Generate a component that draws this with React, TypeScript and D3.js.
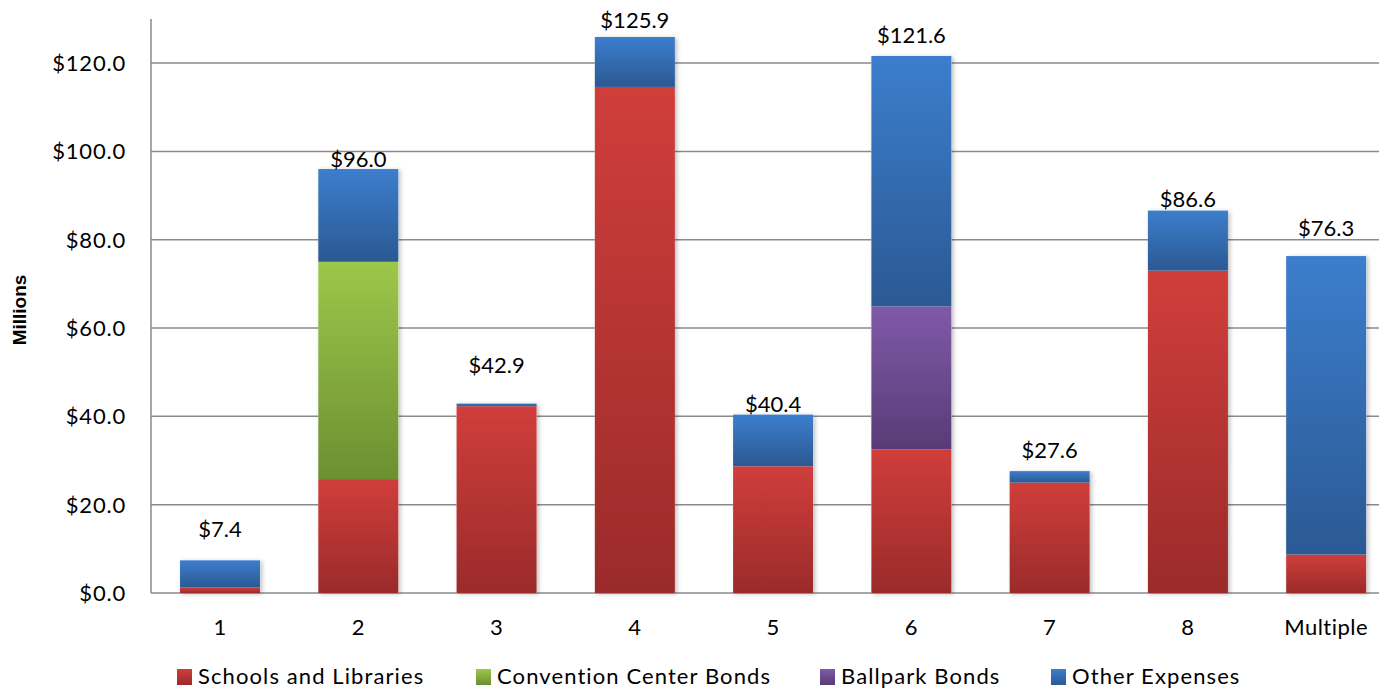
import React from "react";
import * as d3 from "d3";

const categories = ["1", "2", "3", "4", "5", "6", "7", "8", "Multiple"];
const seriesNames = ["Schools and Libraries", "Convention Center Bonds", "Ballpark Bonds", "Other Expenses"];
const schools = [1.3, 25.8, 42.3, 114.6, 28.7, 32.5, 25.0, 73.0, 8.7];
const convention = [0, 49.2, 0, 0, 0, 0, 0, 0, 0];
const ballpark = [0, 0, 0, 0, 0, 32.4, 0, 0, 0];
const other = [6.1, 21.0, 0.6, 11.3, 11.7, 56.7, 2.6, 13.6, 67.6];
const totals = ["$7.4", "$96.0", "$42.9", "$125.9", "$40.4", "$121.6", "$27.6", "$86.6", "$76.3"];
const labelGap = [23, 2, 31, 9, 3, 13, 13, 4, 20];
const yTicks = [0, 20, 40, 60, 80, 100, 120];

const gradTop = ["#d03e3b", "#9cc74a", "#8059a8", "#3c7ecd"];
const gradBottom = ["#9a2b2a", "#6c8f31", "#583b76", "#2b5993"];
const legendX = [177, 476, 820, 1051];

export default function App() {
  const W = 1379, H = 690;
  const left = 151;
  const step = 138.25;
  const x = d3.scaleBand<string>().domain(categories).range([left, left + step * categories.length]).paddingInner(0.421).paddingOuter(0.21);
  const y = d3.scaleLinear().domain([0, 130]).range([593, 593 - 130 * 4.416]);
  const rows = categories.map((c, i) => ({ cat: c, s0: schools[i], s1: convention[i], s2: ballpark[i], s3: other[i] }));
  const stack = d3.stack<any>().keys(["s0", "s1", "s2", "s3"]);
  const layers = stack(rows);
  const font = "Lato, 'Open Sans', sans-serif";
  const bw = x.bandwidth();
  return (
    <svg width={W} height={H} style={{ position: "absolute", left: 0, top: 0, background: "#fff" }}>
      <defs>
        {gradTop.map((c, i) => (
          <linearGradient key={i} id={"g" + i} x1="0" y1="0" x2="0" y2="1">
            <stop offset="0" stopColor={c} />
            <stop offset="1" stopColor={gradBottom[i]} />
          </linearGradient>
        ))}
        <filter id="sh" x="-20%" y="-20%" width="140%" height="140%">
          <feDropShadow dx="2" dy="1" stdDeviation="2" floodColor="#000" floodOpacity="0.25" />
        </filter>
      </defs>
      {yTicks.map((t) => (
        <g key={t}>
          <line x1={left} x2={W} y1={y(t)} y2={y(t)} stroke="#8a8a8a" strokeWidth={1.5} />
          <text x={126} y={y(t) + 8} textAnchor="end" fontFamily={font} fontSize={22} letterSpacing={0.8} fill="#000">
            {"$" + t.toFixed(1)}
          </text>
        </g>
      ))}
      <line x1={left} x2={left} y1={y(130)} y2={y(0)} stroke="#8a8a8a" strokeWidth={1.5} />
      {categories.map((c, i) => {
        const x0 = x(c)!;
        const total = schools[i] + convention[i] + ballpark[i] + other[i];
        return (
          <g key={c}>
            <rect x={x0} y={y(total)} width={bw} height={y(0) - y(total)} fill="#fff" filter="url(#sh)" />
            {layers.map((layer, k) => {
              const d = layer[i];
              if (d[1] - d[0] <= 0) return null;
              return <rect key={k} x={x0} y={y(d[1])} width={bw} height={y(d[0]) - y(d[1])} fill={`url(#g${k})`} />;
            })}
            <text x={x0 + bw / 2} y={y(total) - labelGap[i]} textAnchor="middle" fontFamily={font} fontSize={22} fill="#000">
              {totals[i]}
            </text>
            <text x={x0 + bw / 2} y={635} textAnchor="middle" fontFamily={font} fontSize={22} letterSpacing={0.5} fill="#000">
              {c}
            </text>
          </g>
        );
      })}
      <text transform="translate(26,310) rotate(-90)" textAnchor="middle" fontFamily="'Liberation Sans', Arial, sans-serif" fontWeight="bold" fontSize={19} fill="#000">
        Millions
      </text>
      {seriesNames.map((n, i) => (
        <g key={n}>
          <rect x={legendX[i]} y={669} width={15} height={16} fill={`url(#g${i})`} />
          <text x={legendX[i] + 21} y={684} fontFamily={font} fontSize={22} letterSpacing={1.1} fill="#000">
            {n}
          </text>
        </g>
      ))}
    </svg>
  );
}
